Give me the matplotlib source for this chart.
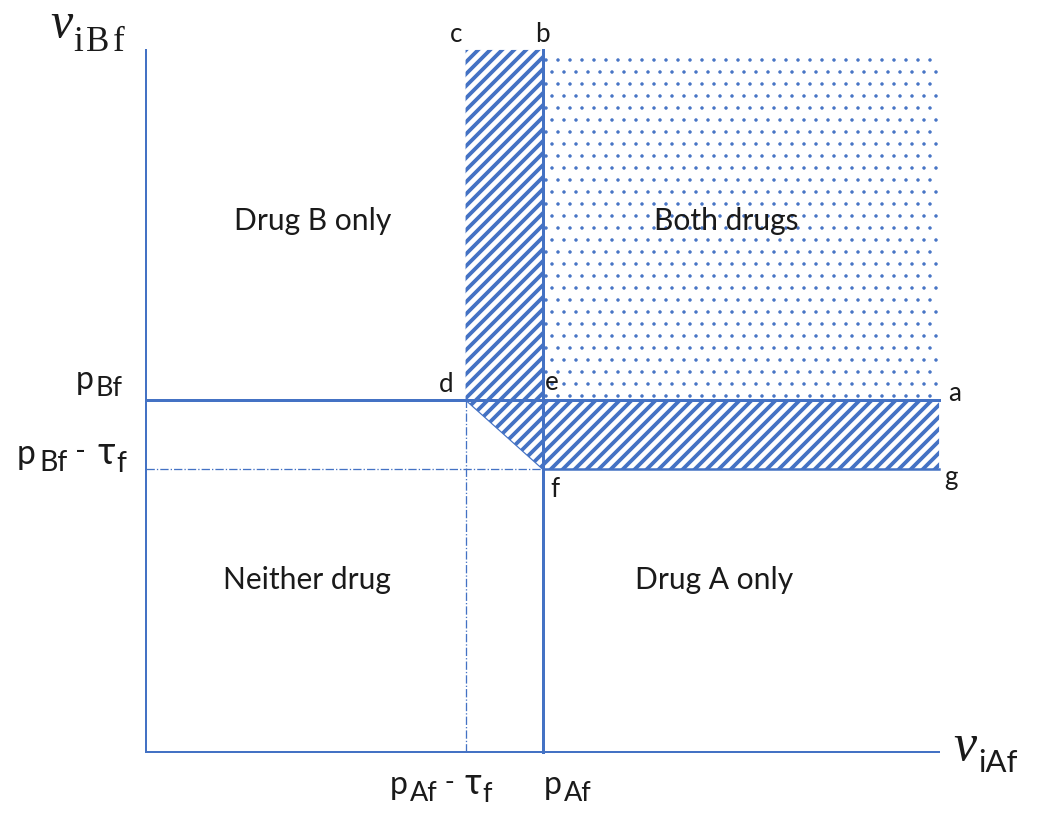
import numpy as np
import matplotlib
matplotlib.use('Agg')
import matplotlib.pyplot as plt
from matplotlib.patches import Polygon

# model values (arbitrary units)
v_max_A = 20.6   # end of horizontal axis
v_max_B = 20.35  # end of vertical axis
p_Af = 10.3
p_Bf = 10.2
tau_f = 2.0

region_labels = ['Drug B only', 'Both drugs', 'Neither drug', 'Drug A only']
region_x = [4.32, 15.06, 4.17, 14.75]
region_y = [15.4, 15.4, 4.99, 4.99]

point_names = ['a', 'b', 'c', 'd', 'e', 'f', 'g']

blue = '#4472C4'
ink = '#1a1a1a'
sans = 'Lato'

fig = plt.figure(figsize=(1037 / 72, 814 / 72), dpi=72)
ax = fig.add_axes([0, 0, 1, 1])
ax.set_xlim(-146 / 38.5, (1037 - 146) / 38.5)
ax.set_ylim(-62 / 34.5, (814 - 62) / 34.5)
ax.axis('off')

# shaded regions
with plt.rc_context({'hatch.linewidth': 1.0}):
    dots = Polygon([(p_Af, p_Bf), (v_max_A, p_Bf), (v_max_A, v_max_B), (p_Af, v_max_B)],
                   closed=True, facecolor='none', edgecolor=blue, linewidth=0, hatch='.')
    if hasattr(dots, 'set_hatch_linewidth'):
        dots.set_hatch_linewidth(1.0)
    ax.add_patch(dots)
with plt.rc_context({'hatch.linewidth': 3.8}):
    stripe = Polygon([(p_Af - tau_f, v_max_B), (p_Af, v_max_B), (p_Af, p_Bf), (v_max_A, p_Bf),
                      (v_max_A, p_Bf - tau_f), (p_Af, p_Bf - tau_f), (p_Af - tau_f, p_Bf)],
                     closed=True, facecolor='none', edgecolor=blue, linewidth=0, hatch='//')
    if hasattr(stripe, 'set_hatch_linewidth'):
        stripe.set_hatch_linewidth(3.8)
    ax.add_patch(stripe)
ax.plot([p_Af - tau_f, p_Af], [p_Bf, p_Bf - tau_f], color=blue, lw=1.2)

# axes
ax.plot([0, v_max_A], [0, 0], color=blue, lw=2)
ax.plot([0, 0], [0, v_max_B], color=blue, lw=2)

# price lines
ax.plot([p_Af, p_Af], [0, v_max_B], color=blue, lw=3)
ax.plot([0, v_max_A], [p_Bf, p_Bf], color=blue, lw=3)
ax.plot([p_Af, v_max_A], [p_Bf - tau_f, p_Bf - tau_f], color=blue, lw=2.5)
ax.plot([0, p_Af], [p_Bf - tau_f, p_Bf - tau_f], color=blue, lw=1.3, ls='-.')
ax.plot([p_Af - tau_f, p_Af - tau_f], [0, p_Bf], color=blue, lw=1.3, ls='-.')

# region labels
for lab, x, y in zip(region_labels, region_x, region_y):
    ax.text(x, y, lab, ha='center', va='center', fontsize=30, family=sans, color=ink)

# corner letters
pts = {
    'a': (v_max_A + 0.4, p_Bf + 0.2),
    'b': (p_Af, v_max_B + 0.45),
    'c': (p_Af - tau_f - 0.25, v_max_B + 0.45),
    'd': (p_Af - tau_f - 0.5, p_Bf + 0.45),
    'e': (p_Af + 0.25, p_Bf + 0.5),
    'f': (p_Af + 0.32, p_Bf - tau_f - 0.6),
    'g': (v_max_A + 0.3, p_Bf - tau_f - 0.25),
}
for n in point_names:
    x, y = pts[n]
    ax.text(x, y, n, ha='center', va='center', fontsize=26, family=sans, color=ink)


def draw_label(x_px, y_px, parts):
    # pieces laid left to right, y_px is the main baseline in pixels from top
    renderer = fig.canvas.get_renderer()
    cur = x_px
    for txt, size, dy, gap, fam, style in parts:
        t = fig.text(cur / 1037, 1 - (y_px + dy) / 814, txt, fontsize=size,
                     family=fam, style=style, ha='left', va='baseline', color=ink)
        cur += t.get_window_extent(renderer).width + gap


def p_parts(sub, with_tau):
    parts = [('p', 32, 0, 2, sans, 'normal'), (sub, 27, 7, 0, sans, 'normal')]
    if with_tau:
        parts += [(' - ', 27, -4, 3, sans, 'normal'), ('\u03c4', 36, 0, 1, sans, 'normal'),
                  ('f', 27, 8, 0, sans, 'normal')]
    return parts


draw_label(76, 389, p_parts('Bf', False))
draw_label(17, 464, [(t, s * 1.05, dy, g + 1, f, st) for t, s, dy, g, f, st in p_parts('Bf', True)])
draw_label(390, 794, p_parts('Af', True))
draw_label(544, 794, p_parts('Af', False))

# axis titles
draw_label(50, 37, [('v', 50, 0, 1, 'Liberation Serif', 'italic'),
                    ('i', 35, 14, 3, 'Liberation Serif', 'normal'),
                    ('B', 35, 14, 3, 'Liberation Serif', 'normal'),
                    ('f', 35, 14, 0, 'Liberation Serif', 'normal')])
draw_label(953, 760, [('v', 52, 0, 2, 'Liberation Serif', 'italic'),
                      ('iAf', 31, 12, 0, sans, 'normal')])

fig.savefig('out.png', dpi=72)
